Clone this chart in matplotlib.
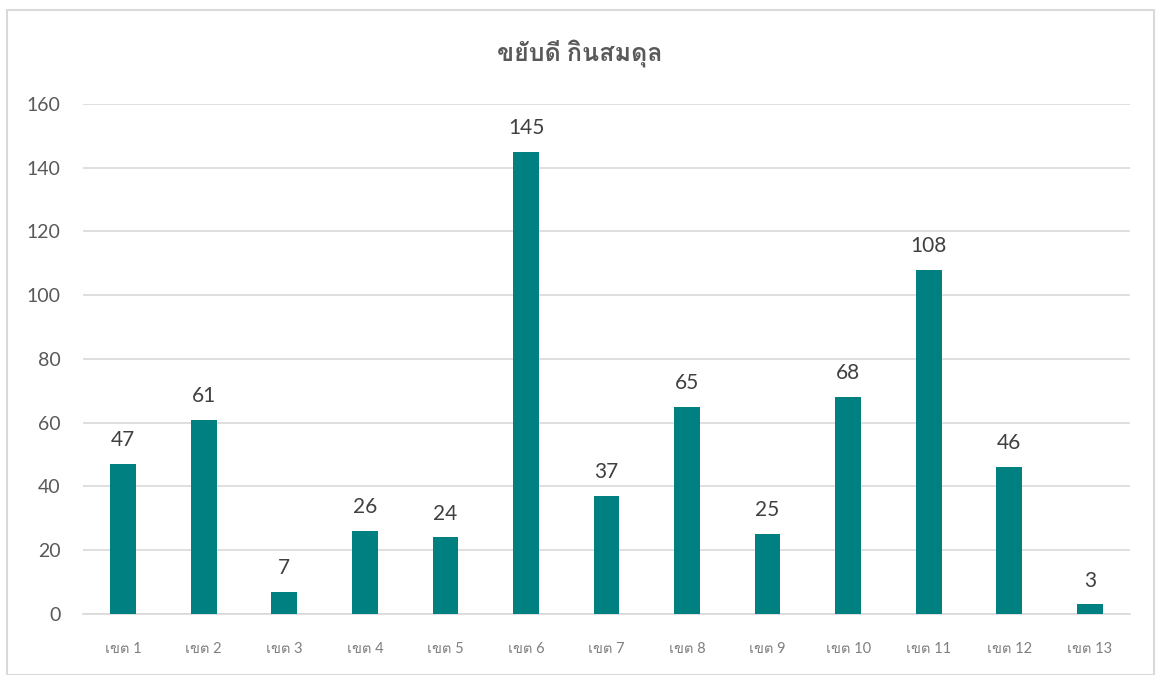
import matplotlib
matplotlib.use("Agg")
import matplotlib.pyplot as plt
from matplotlib import font_manager
from matplotlib.ft2font import FT2Font

categories = ["เขต 1", "เขต 2", "เขต 3", "เขต 4", "เขต 5", "เขต 6", "เขต 7",
              "เขต 8", "เขต 9", "เขต 10", "เขต 11", "เขต 12", "เขต 13"]
values = [47, 61, 7, 26, 24, 145, 37, 65, 25, 68, 108, 46, 3]
title = "ขยับดี กินสมดุล"
yticks = [0, 20, 40, 60, 80, 100, 120, 140, 160]

# find a font that has Thai glyphs
thai_fams = []
for f in font_manager.fontManager.ttflist:
    try:
        ft = FT2Font(f.fname)
        if ft.get_char_index(ord("ข")) != 0 and f.name not in thai_fams:
            thai_fams.append(f.name)
    except Exception:
        pass
pref = (["Loma"] if "Loma" in thai_fams else []) + thai_fams
fams = ["Lato"] + pref[:2] + ["DejaVu Sans"]
plt.rcParams["font.family"] = fams

fig = plt.figure(figsize=(11.59, 6.75), dpi=100)
ax = fig.add_axes([0.0716, 0.0904, 0.9034, 0.7556])

x = list(range(len(categories)))
ax.bar(x, values, width=0.32, color="#008080", zorder=3)
for xi, v in zip(x, values):
    ax.annotate(str(v), (xi, v), xytext=(0, 10), textcoords="offset points",
                ha="center", va="bottom", fontsize=15, color="#404040")

ax.set_xlim(-0.5, len(categories) - 0.5)
ax.set_ylim(0, 160)
ax.set_yticks(yticks)
ax.set_xticks(x)
ax.set_xticklabels(categories, fontsize=10.5, color="#7f7f7f")
ax.tick_params(axis="y", labelsize=14, labelcolor="#595959", length=0, pad=16)
ax.tick_params(axis="x", length=0, pad=20)
ax.grid(axis="y", color="#d9d9d9", linewidth=1.2, zorder=0)
for s in ["top", "right", "left"]:
    ax.spines[s].set_visible(False)
ax.spines["bottom"].set_color("#d9d9d9")
ax.spines["bottom"].set_linewidth(1.2)

fig.text(0.5, 0.922, title, ha="center", va="center", fontsize=18,
         fontweight="bold", color="#595959")

border = plt.Rectangle((0.006, 0.0), 0.99, 0.985, transform=fig.transFigure,
                       fill=False, edgecolor="#d9d9d9", linewidth=1.5)
fig.patches.append(border)

fig.savefig("out.png", dpi=100)
